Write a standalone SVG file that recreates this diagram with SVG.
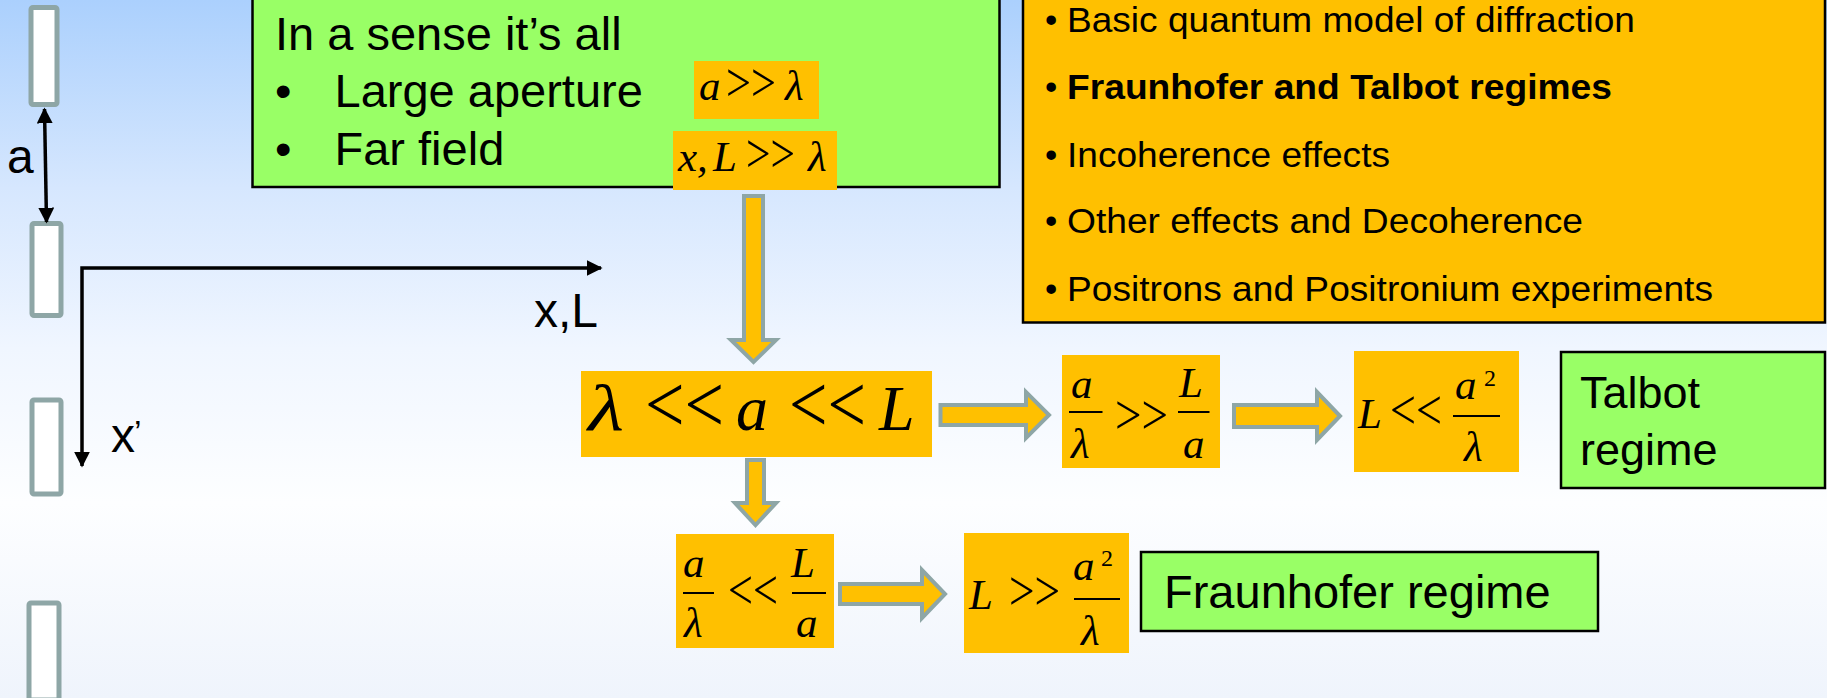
<svg xmlns="http://www.w3.org/2000/svg" width="1827" height="698" viewBox="0 0 1827 698">
  <defs>
    <linearGradient id="bg" x1="0" y1="0" x2="0" y2="1">
      <stop offset="0" stop-color="#abd0fd"/>
      <stop offset="0.27" stop-color="#d6e7fe"/>
      <stop offset="0.5" stop-color="#f0f6ff"/>
      <stop offset="0.72" stop-color="#fdfeff"/>
      <stop offset="1" stop-color="#eff4fc"/>
    </linearGradient>
    <marker id="head" viewBox="0 0 10 10" refX="9" refY="5" markerWidth="16" markerHeight="16" markerUnits="userSpaceOnUse" orient="auto-start-reverse">
      <path d="M0,0 L10,5 L0,10 Z" fill="#000"/>
    </marker>
  </defs>
  <style>
    .sans { font-family: "Liberation Sans", Arial, sans-serif; fill: #000; }
    .math { font-family: "Liberation Serif", "Times New Roman", serif; font-style: italic; fill: #000; }
    .op { font-family: "Liberation Serif", "Times New Roman", serif; fill: #000; }
    .green { fill: #99ff66; stroke: #000; stroke-width: 2.5; }
    .orange { fill: #ffc000; }
    .slit { fill: #fff; stroke: #8ea6a6; stroke-width: 5; }
    .block { fill: #ffc000; stroke: #8ea6a6; stroke-width: 4; stroke-linejoin: miter; }
    .axis { stroke: #000; stroke-width: 3.5; fill: none; }
    .bar { stroke: #000; stroke-width: 2; }
  </style>

  <rect x="0" y="0" width="1827" height="698" fill="url(#bg)"/>

  <!-- grating slits -->
  <g id="slits">
    <rect class="slit" x="31" y="7.5" width="26" height="97" rx="2"/>
    <rect class="slit" x="32" y="223.5" width="29" height="92" rx="2"/>
    <rect class="slit" x="32" y="400" width="29" height="94" rx="2"/>
    <rect class="slit" x="29" y="603" width="30" height="97" rx="2"/>
  </g>

  <!-- slit spacing and axes -->
  <g id="axes">
    <line class="axis" x1="44.5" y1="109" x2="46.5" y2="222" stroke-width="3" marker-start="url(#head)" marker-end="url(#head)"/>
    <text class="sans" x="7" y="173" font-size="48">a</text>
    <polyline class="axis" points="601,268 82,268 82,466" marker-start="url(#head)" marker-end="url(#head)"/>
    <text class="sans" x="534" y="327" font-size="48">x,L</text>
    <text class="sans" x="111" y="452" font-size="48">x</text>
    <text class="sans" x="134" y="444" font-size="34">’</text>
  </g>

  <!-- assumptions -->
  <g id="assumptions">
    <rect class="green" x="252.5" y="-10" width="747" height="197"/>
    <text class="sans" x="275" y="50" font-size="47">In a sense it’s all</text>
    <text class="sans" x="275" y="107" font-size="47">•</text>
    <text class="sans" x="334.5" y="107" font-size="47">Large aperture</text>
    <text class="sans" x="275" y="165" font-size="47">•</text>
    <text class="sans" x="334.5" y="165" font-size="47">Far field</text>
  </g>

  <g id="cond-aperture">
    <rect class="orange" x="694" y="61" width="125" height="58"/>
    <text class="math" x="699" y="100" font-size="43">a</text>
    <text class="op" x="726" y="101" font-size="54" textLength="50" lengthAdjust="spacingAndGlyphs">&gt;&gt;</text>
    <text class="math" x="785" y="100" font-size="43">λ</text>
  </g>

  <g id="cond-farfield">
    <rect class="orange" x="673" y="131" width="164" height="59"/>
    <text class="math" x="678" y="171" font-size="43">x,</text>
    <text class="math" x="713" y="171" font-size="43">L</text>
    <text class="op" x="746" y="172" font-size="54" textLength="49" lengthAdjust="spacingAndGlyphs">&gt;&gt;</text>
    <text class="math" x="808" y="171" font-size="43">λ</text>
  </g>

  <!-- outline -->
  <g id="outline">
    <rect x="1023" y="-10" width="802" height="332.5" fill="#ffc000" stroke="#000" stroke-width="2.5"/>
    <g class="sans" font-size="35">
      <text x="1045" y="32">•</text>
      <text x="1067" y="32" textLength="568" lengthAdjust="spacingAndGlyphs">Basic quantum model of diffraction</text>
      <text x="1045" y="99">•</text>
      <text x="1067" y="99" font-weight="bold" textLength="545" lengthAdjust="spacingAndGlyphs">Fraunhofer and Talbot regimes</text>
      <text x="1045" y="167">•</text>
      <text x="1067" y="167" textLength="323" lengthAdjust="spacingAndGlyphs">Incoherence effects</text>
      <text x="1045" y="233">•</text>
      <text x="1067" y="233" textLength="516" lengthAdjust="spacingAndGlyphs">Other effects and Decoherence</text>
      <text x="1045" y="301">•</text>
      <text x="1067" y="301" textLength="646" lengthAdjust="spacingAndGlyphs">Positrons and Positronium experiments</text>
    </g>
  </g>

  <!-- main inequality -->
  <g id="main-cond">
    <rect class="orange" x="581" y="371" width="351" height="86"/>
    <text class="math" x="588" y="430" font-size="66" textLength="36" lengthAdjust="spacingAndGlyphs">λ</text>
    <text class="op" x="645" y="432" font-size="82" textLength="79" lengthAdjust="spacingAndGlyphs">&lt;&lt;</text>
    <text class="math" x="736" y="430" font-size="64">a</text>
    <text class="op" x="789" y="432" font-size="82" textLength="77" lengthAdjust="spacingAndGlyphs">&lt;&lt;</text>
    <text class="math" x="879" y="430" font-size="64">L</text>
  </g>

  <g id="talbot-ratio">
    <rect class="orange" x="1062" y="355" width="158" height="113"/>
    <text class="math" x="1071" y="398" font-size="43">a</text>
    <line class="bar" x1="1069" y1="412" x2="1102.5" y2="412"/>
    <text class="math" x="1071" y="458" font-size="43">λ</text>
    <text class="op" x="1115" y="434" font-size="56" textLength="53" lengthAdjust="spacingAndGlyphs">&gt;&gt;</text>
    <text class="math" x="1179" y="397" font-size="43">L</text>
    <line class="bar" x1="1178" y1="412" x2="1209.5" y2="412"/>
    <text class="math" x="1183" y="458" font-size="43">a</text>
  </g>

  <g id="talbot-cond">
    <rect class="orange" x="1354" y="351" width="165" height="121"/>
    <text class="math" x="1358" y="428" font-size="43">L</text>
    <text class="op" x="1390" y="429" font-size="56" textLength="52" lengthAdjust="spacingAndGlyphs">&lt;&lt;</text>
    <text class="math" x="1455" y="399" font-size="43">a</text>
    <text class="op" x="1484" y="386" font-size="24">2</text>
    <line class="bar" x1="1453" y1="416" x2="1500" y2="416"/>
    <text class="math" x="1464" y="461" font-size="43">λ</text>
  </g>

  <g id="talbot">
    <rect class="green" x="1561" y="352" width="264" height="136"/>
    <text class="sans" x="1580" y="408" font-size="45">Talbot</text>
    <text class="sans" x="1580" y="465" font-size="45">regime</text>
  </g>

  <g id="fraunhofer-ratio">
    <rect class="orange" x="676" y="534" width="158" height="114"/>
    <text class="math" x="683" y="577" font-size="43">a</text>
    <line class="bar" x1="683" y1="593" x2="714" y2="593"/>
    <text class="math" x="684" y="637" font-size="43">λ</text>
    <text class="op" x="728" y="609" font-size="56" textLength="50" lengthAdjust="spacingAndGlyphs">&lt;&lt;</text>
    <text class="math" x="791" y="577" font-size="43">L</text>
    <line class="bar" x1="792" y1="593" x2="826" y2="593"/>
    <text class="math" x="796" y="637" font-size="43">a</text>
  </g>

  <g id="fraunhofer-cond">
    <rect class="orange" x="964" y="533" width="165" height="120"/>
    <text class="math" x="969" y="609" font-size="43">L</text>
    <text class="op" x="1009" y="610" font-size="56" textLength="51" lengthAdjust="spacingAndGlyphs">&gt;&gt;</text>
    <text class="math" x="1073" y="580" font-size="43">a</text>
    <text class="op" x="1101" y="566" font-size="24">2</text>
    <line class="bar" x1="1074" y1="599" x2="1120" y2="599"/>
    <text class="math" x="1081" y="645" font-size="43">λ</text>
  </g>

  <g id="fraunhofer">
    <rect class="green" x="1141" y="552" width="457" height="79"/>
    <text class="sans" x="1164" y="608" font-size="47">Fraunhofer regime</text>
  </g>

  <!-- block arrows -->
  <g id="connectors">
    <polygon class="block" points="744,196 763,196 763,340 776,340 753.5,362 731,340 744,340"/>
    <polygon class="block" points="940.5,405 1026,405 1026,392 1049,415 1026,438 1026,425 940.5,425"/>
    <polygon class="block" points="1234,405 1317,405 1317,392 1340,416 1317,440 1317,427 1234,427"/>
    <polygon class="block" points="747,460 764,460 764,503 776,503 755.5,525 735,503 747,503"/>
    <polygon class="block" points="840,584 922,584 922,570 945,594 922,618 922,604 840,604"/>
  </g>
</svg>
